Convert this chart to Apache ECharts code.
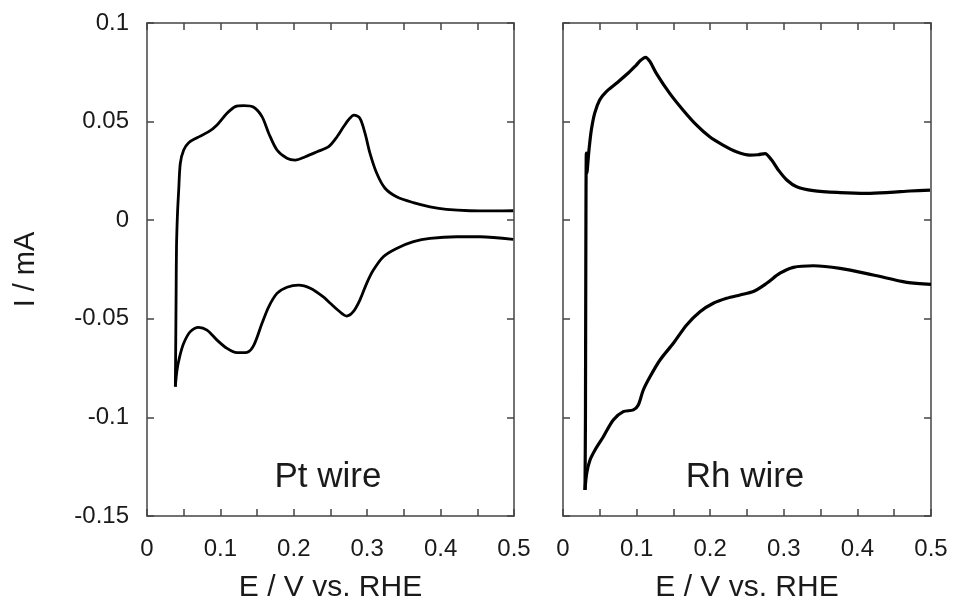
<!DOCTYPE html>
<html>
<head>
<meta charset="utf-8">
<script src="https://cdn.jsdelivr.net/npm/echarts@6/dist/echarts.min.js"></script>
<style>
html,body{margin:0;padding:0;background:#fff;}
#chart{width:953px;height:600px;}
</style>
</head>
<body>
<div id="chart"></div>
<script>
// ---- Data (E in V vs. RHE, I in mA) ----
var xTickLabels = ['0', '0.1', '0.2', '0.3', '0.4', '0.5'];
var yTickLabels = ['-0.15', '-0.1', '-0.05', '0', '0.05', '0.1'];
var panelLabels = ['Pt wire', 'Rh wire'];

// Pt wire, anodic (positive-going) sweep
var ptAnodicE = [0.0386, 0.0392, 0.0397, 0.0402, 0.0415, 0.0432, 0.0454, 0.050, 0.0568, 0.0681, 0.0841, 0.0954, 0.109, 0.1203, 0.1317, 0.1454, 0.1567, 0.1658, 0.1771, 0.1907, 0.202, 0.2157, 0.2316, 0.2475, 0.2589, 0.2680, 0.2743, 0.282, 0.290, 0.297, 0.3038, 0.313, 0.3243, 0.340, 0.3628, 0.3856, 0.408, 0.440, 0.472, 0.499];
var ptAnodicI = [-0.0844, -0.060, -0.035, -0.0134, 0.003, 0.0153, 0.0289, 0.0356, 0.0393, 0.0418, 0.0449, 0.0483, 0.0542, 0.0576, 0.0581, 0.0573, 0.0525, 0.0441, 0.0356, 0.0314, 0.0305, 0.0322, 0.0347, 0.0373, 0.0423, 0.0475, 0.0508, 0.0533, 0.0517, 0.0441, 0.0339, 0.0238, 0.0162, 0.0119, 0.0089, 0.0068, 0.0055, 0.0048, 0.0047, 0.0048];
// Pt wire, cathodic (negative-going) sweep
var ptCathodicE = [0.499, 0.4537, 0.422, 0.3856, 0.363, 0.340, 0.322, 0.3084, 0.2993, 0.290, 0.281, 0.272, 0.2606, 0.2493, 0.2407, 0.2225, 0.2066, 0.1907, 0.1771, 0.1658, 0.1567, 0.1454, 0.1362, 0.1226, 0.109, 0.0954, 0.0817, 0.0704, 0.059, 0.050, 0.0445, 0.0409, 0.0386];
var ptCathodicI = [-0.0097, -0.0084, -0.0084, -0.0092, -0.0109, -0.0143, -0.0185, -0.0253, -0.032, -0.0405, -0.0464, -0.0486, -0.0458, -0.0420, -0.0390, -0.0345, -0.0329, -0.034, -0.0371, -0.0439, -0.0523, -0.0635, -0.0670, -0.0672, -0.065, -0.0608, -0.0557, -0.0543, -0.0565, -0.0624, -0.0692, -0.076, -0.0844];

// Rh wire, anodic sweep
var rhAnodicE = [0.0299, 0.0305, 0.031, 0.0317, 0.0325, 0.034, 0.0353, 0.0385, 0.043, 0.0498, 0.0589, 0.0725, 0.0883, 0.0996, 0.106, 0.112, 0.118, 0.1268, 0.145, 0.163, 0.1812, 0.1993, 0.2174, 0.2355, 0.2537, 0.2650, 0.2745, 0.2835, 0.2925, 0.304, 0.3175, 0.340, 0.3764, 0.4126, 0.4443, 0.4715, 0.4986];
var rhAnodicI = [-0.1368, -0.100, -0.020, 0.034, 0.024, 0.030, 0.0356, 0.0457, 0.0542, 0.061, 0.0652, 0.0694, 0.0745, 0.0787, 0.0812, 0.0826, 0.0805, 0.0745, 0.0643, 0.0559, 0.0483, 0.0423, 0.0381, 0.0347, 0.033, 0.0332, 0.0338, 0.0305, 0.0255, 0.0204, 0.017, 0.015, 0.014, 0.0136, 0.0141, 0.0148, 0.0153];
// Rh wire, cathodic sweep
var rhCathodicE = [0.500, 0.467, 0.4216, 0.3764, 0.340, 0.313, 0.2948, 0.2767, 0.2586, 0.2405, 0.2224, 0.2042, 0.1861, 0.168, 0.1499, 0.1318, 0.1182, 0.1091, 0.1023, 0.0956, 0.0819, 0.0683, 0.0548, 0.0435, 0.0367, 0.0322, 0.0299];
var rhCathodicI = [-0.0325, -0.0315, -0.0278, -0.0244, -0.0231, -0.0239, -0.0269, -0.032, -0.0362, -0.0379, -0.0396, -0.0421, -0.0464, -0.0531, -0.0624, -0.0709, -0.0794, -0.0861, -0.0937, -0.0962, -0.0971, -0.1013, -0.1098, -0.1165, -0.1216, -0.1283, -0.1368];

function pairs(xs, ys) {
  var out = [];
  for (var i = 0; i < xs.length; i++) out.push([xs[i], ys[i]]);
  return out;
}

var FONT = '"Liberation Sans", Arial, sans-serif';
var FRAME = '#444';
var TXT = '#1a1a1a';

function xFmt(v) {
  var k = Math.round(v * 100);
  if (k % 10 !== 0) return '';
  var idx = k / 10;
  return xTickLabels[idx] !== undefined ? xTickLabels[idx] : '';
}
function yFmt(v) {
  var k = Math.round((v + 0.15) / 0.05);
  return yTickLabels[k] !== undefined ? yTickLabels[k] : '';
}

function xAxisDef(gi, pos) {
  var bottom = pos === 'bottom';
  return {
    type: 'value', gridIndex: gi, position: pos,
    min: 0, max: 0.5, interval: 0.05,
    axisLine: { show: true, onZero: false, lineStyle: { color: FRAME, width: 1.5 } },
    axisTick: { show: true, inside: true, length: 7, lineStyle: { color: FRAME, width: 1.5 } },
    axisLabel: { show: bottom, margin: 21, fontSize: 24, color: TXT, fontFamily: FONT, formatter: xFmt, hideOverlap: false, showMinLabel: true, showMaxLabel: true },
    splitLine: { show: false },
    name: bottom ? 'E / V vs. RHE' : '',
    nameLocation: 'middle', nameGap: 57,
    nameTextStyle: { fontSize: 30, color: TXT, fontFamily: FONT }
  };
}
function yAxisDef(gi, pos, labels, name) {
  return {
    type: 'value', gridIndex: gi, position: pos,
    min: -0.15, max: 0.1, interval: 0.05,
    axisLine: { show: true, onZero: false, lineStyle: { color: FRAME, width: 1.5 } },
    axisTick: { show: true, inside: true, length: 7, lineStyle: { color: FRAME, width: 1.5 } },
    axisLabel: { show: labels, margin: 18, fontSize: 24, color: TXT, fontFamily: FONT, formatter: yFmt, showMinLabel: true, showMaxLabel: true },
    splitLine: { show: false },
    name: name || '',
    nameLocation: 'middle', nameGap: 107, nameRotate: 90,
    nameTextStyle: { fontSize: 29, color: TXT, fontFamily: FONT }
  };
}

function series(name, data, xi, yi, w) {
  return {
    name: name, type: 'line', data: data, xAxisIndex: xi, yAxisIndex: yi,
    showSymbol: false, symbol: 'none', smooth: 0.3, silent: true, animation: false,
    lineStyle: { color: '#000', width: w }, z: 3
  };
}

var chart = echarts.init(document.getElementById('chart'), null, { renderer: 'canvas' });
chart.setOption({
  backgroundColor: '#fff',
  animation: false,
  grid: [
    { left: 147, top: 23, width: 367, height: 493, show: false, containLabel: false, outerBoundsMode: 'none' },
    { left: 563, top: 23, width: 368, height: 493, show: false, containLabel: false, outerBoundsMode: 'none' }
  ],
  xAxis: [
    xAxisDef(0, 'bottom'), xAxisDef(0, 'top'),
    xAxisDef(1, 'bottom'), xAxisDef(1, 'top')
  ],
  yAxis: [
    yAxisDef(0, 'left', true, 'I / mA'), yAxisDef(0, 'right', false),
    yAxisDef(1, 'left', false), yAxisDef(1, 'right', false)
  ],
  series: [
    series('Pt anodic', pairs(ptAnodicE, ptAnodicI), 0, 0, 2.8),
    series('Pt cathodic', pairs(ptCathodicE, ptCathodicI), 0, 0, 2.8),
    series('Rh anodic', pairs(rhAnodicE, rhAnodicI), 2, 2, 3.2),
    series('Rh cathodic', pairs(rhCathodicE, rhCathodicI), 2, 2, 3.2)
  ],
  graphic: [
    { type: 'text', x: 328, y: 477, style: { text: panelLabels[0], fill: TXT, font: '35px ' + FONT, align: 'center', verticalAlign: 'middle' } },
    { type: 'text', x: 745, y: 477, style: { text: panelLabels[1], fill: TXT, font: '35px ' + FONT, align: 'center', verticalAlign: 'middle' } }
  ]
});
</script>
</body>
</html>
